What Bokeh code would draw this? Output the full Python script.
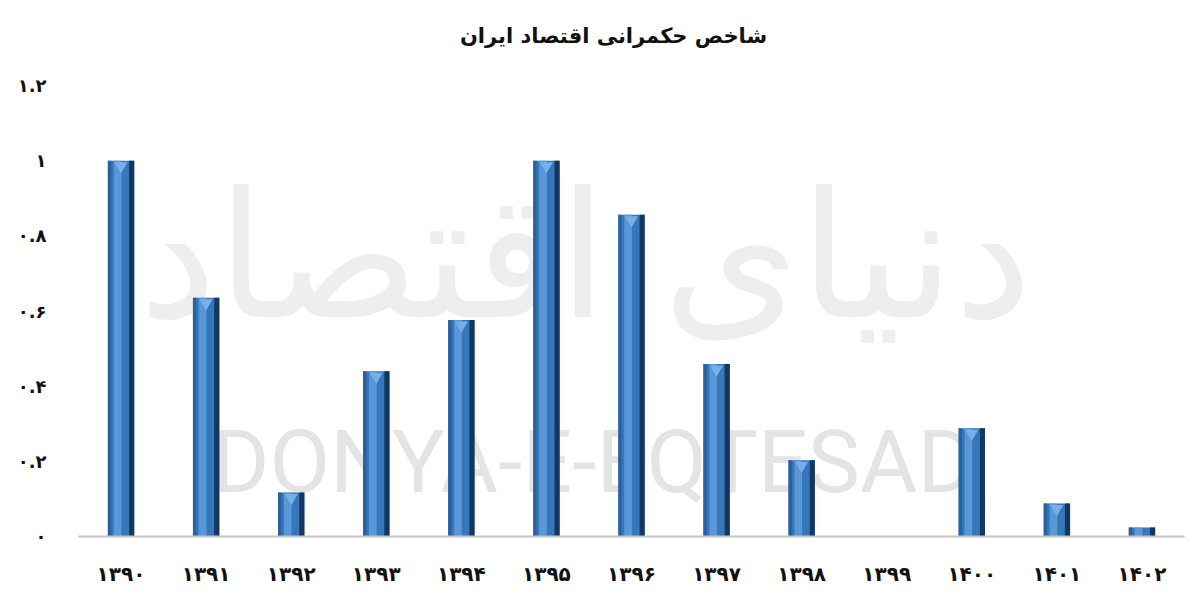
from bokeh.plotting import figure
from bokeh.models import FactorRange, Range1d, FixedTicker, Label
from bokeh.transform import dodge
from bokeh.embed import file_html
from bokeh.resources import INLINE

# ---- data ----
years = ["۱۳۹۰", "۱۳۹۱", "۱۳۹۲", "۱۳۹۳", "۱۳۹۴", "۱۳۹۵", "۱۳۹۶",
         "۱۳۹۷", "۱۳۹۸", "۱۳۹۹", "۱۴۰۰", "۱۴۰۱", "۱۴۰۲"]
values = [1.0, 0.635, 0.117, 0.44, 0.576, 1.0, 0.856,
          0.459, 0.203, 0.0, 0.288, 0.088, 0.024]
y_ticks = [0, 0.2, 0.4, 0.6, 0.8, 1.0, 1.2]
y_tick_labels = ["۰", "۰.۲", "۰.۴", "۰.۶", "۰.۸", "۱", "۱.۲"]
title_text = "شاخص حکمرانی اقتصاد ایران"

FONT = "DejaVu Sans"

# frame spans the full top of the canvas so the title can sit inside it
FRAME_H = 536
Y_END = 1.2 * FRAME_H / 451.0

p = figure(width=1192, height=599, x_range=FactorRange(*years),
           y_range=Range1d(0, Y_END), output_backend="svg",
           toolbar_location=None, min_border_left=78, min_border_right=8,
           min_border_top=0, min_border_bottom=63)
p.background_fill_color = "white"
p.border_fill_color = "white"
p.outline_line_color = None
p.grid.visible = False

title = Label(x=535, y=FRAME_H - 35, x_units="screen", y_units="screen",
              text=title_text, text_font=FONT, text_font_style="bold",
              text_font_size="21px", text_color="#111111",
              text_align="center", text_baseline="middle")
p.add_layout(title)

# watermarks
wm1 = Label(x=507, y=280, x_units="screen", y_units="screen",
            text="دنیای اقتصاد", text_font=FONT,
            text_font_size="175px", text_color="#eeeeee",
            text_align="center", text_baseline="middle", level="underlay")
wm2 = Label(x=515, y=75, x_units="screen", y_units="screen",
            text="DONYA-E-EQTESAD", text_font="Roboto",
            text_font_size="88px", text_color="#e4e4e4",
            text_align="center", text_baseline="middle", level="underlay")
p.add_layout(wm1)
p.add_layout(wm2)

src = dict(x=years, top=values)
p.vbar(x="x", top="top", width=0.31, bottom=0, source=src,
       fill_color="#3677b9", line_color=None)
p.vbar(x=dodge("x", -0.135, range=p.x_range), top="top", width=0.04,
       source=src, fill_color="#2a62a0", line_color=None)
p.vbar(x=dodge("x", -0.04, range=p.x_range), top="top", width=0.09,
       source=src, fill_color="#5898d8", line_color=None)
p.vbar(x=dodge("x", 0.125, range=p.x_range), top="top", width=0.06,
       source=src, fill_color="#15375e", line_color=None)

tri_x = [y for y, v in zip(years, values) if v > 0.05]
tri_y = [v - 0.014 for v in values if v > 0.05]
p.scatter(x=tri_x, y=tri_y, marker="inverted_triangle", size=13,
          fill_color="#78b0e6", line_color=None)

# axes
p.yaxis.ticker = FixedTicker(ticks=y_ticks)
p.yaxis.major_label_overrides = {t: l for t, l in zip(y_ticks, y_tick_labels)}
p.yaxis.axis_line_color = None
p.yaxis.major_tick_line_color = None
p.yaxis.minor_tick_line_color = None
p.yaxis.major_label_standoff = 26
p.yaxis.major_label_text_font = FONT
p.yaxis.major_label_text_font_style = "bold"
p.yaxis.major_label_text_font_size = "18px"
p.yaxis.major_label_text_color = "#111111"

p.xaxis.axis_line_color = "#c4c4c4"
p.xaxis.axis_line_width = 2
p.xaxis.major_tick_line_color = None
p.xaxis.minor_tick_line_color = None
p.xaxis.major_label_standoff = 19
p.xaxis.major_label_text_font = FONT
p.xaxis.major_label_text_font_style = "bold"
p.xaxis.major_label_text_font_size = "20px"
p.xaxis.major_label_text_color = "#111111"

open("out.html", "w").write(file_html(p, INLINE))
